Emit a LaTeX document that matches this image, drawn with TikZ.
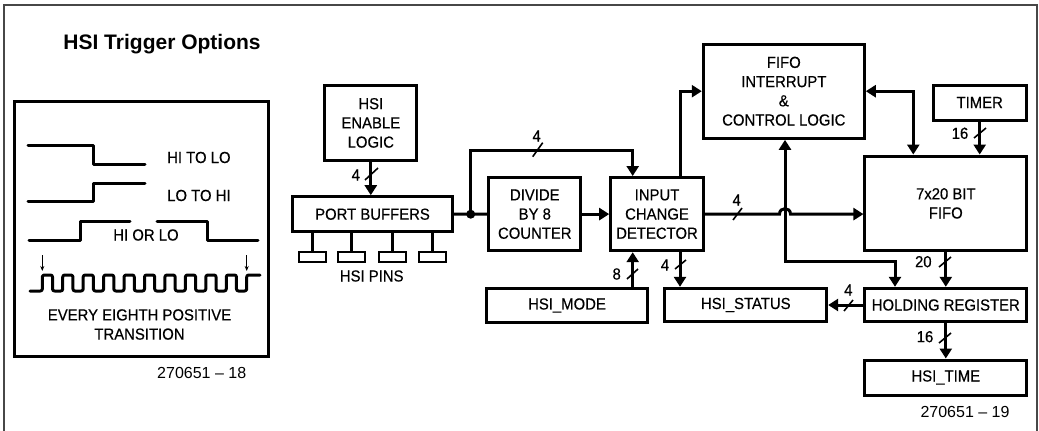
\documentclass[tikz,border=0pt]{standalone}
\usepackage{fontspec}
\setmainfont{Liberation Sans}
\newfontfamily\dgfont[FakeStretch=0.93,FakeBold=0.4]{Liberation Sans}
\usetikzlibrary{arrows.meta,calc}
\begin{document}
\begin{tikzpicture}[x=1pt,y=-1pt,
  box/.style={draw,line width=3pt,inner sep=0pt,align=center,font=\dgfont\fontsize{16}{19.2}\selectfont},
  lbl/.style={font=\dgfont\fontsize{16}{19.2}\selectfont,inner sep=0pt},
  wire/.style={line width=3pt},
  tip/.style={-{Triangle[length=10pt,width=12pt]}},
  dtip/.style={{Triangle[length=10pt,width=12pt]}-{Triangle[length=10pt,width=12pt]}},
  bus/.style={line width=1.6pt},
  wave/.style={line width=3pt,line cap=round,line join=round},
]
\useasboundingbox (0,0) rectangle (1039,431);
% outer frame
\draw[line width=2pt,black!72] (3.5,431) -- (3.5,4.5) -- (1036.5,4.5) -- (1036.5,431);

% ---------- left panel ----------
\node[font=\bfseries\fontsize{21}{24}\selectfont,inner sep=0pt,anchor=base] (title) at (162,49) {HSI Trigger Options};
\draw[line width=3pt] (14,101.7) rectangle (268,356);
\draw[wave] (28,145) -- (93,145) -- (93,164.3) -- (145,164.3);
\node[lbl,anchor=west] (hilo) at (167,157.5) {HI TO LO};
\draw[wave] (28,201.7) -- (93,201.7) -- (93,183.3) -- (145,183.3);
\node[lbl,anchor=west] (lohi) at (167,195.5) {LO TO HI};
\draw[wave] (29,240.7) -- (80,240.7) -- (80,221.7) -- (130,221.7);
\draw[wave] (157,221.7) -- (207,221.7) -- (207,240.7) -- (258,240.7);
\node[lbl] (hiorlo) at (146,235) {HI OR LO};
\draw[wave,rounded corners=2pt] (30,291)
  foreach \i in {0,...,9} { -- ({42.3+\i*20.44},291) -- ++(0,-16) -- ++(10.22,0) -- ++(0,16) }
  -- (246.7,291) -- (246.7,275) -- (260,275);
\draw[line width=0.9pt,-{Stealth[length=5pt,width=4pt]}] (42.3,255) -- (42.3,271);
\draw[line width=0.9pt,-{Stealth[length=5pt,width=4pt]}] (246.7,255) -- (246.7,271);
\node[lbl,align=center] (every) at (139.5,324.5) {EVERY EIGHTH POSITIVE\\TRANSITION};
\node[font=\fontsize{16}{19}\selectfont,inner sep=0pt] (fig18) at (201.7,372.7) {270651 – 18};

% ---------- block diagram ----------
\node[box,minimum width=91.7pt,minimum height=74.3pt] (enable) at (370.8,122.9) {HSI\\ENABLE\\LOGIC};
\node[box,minimum width=160.4pt,minimum height=35pt] (port) at (372.5,214.2) {PORT BUFFERS};
\node[box,minimum width=91.7pt,minimum height=73.2pt] (divide) at (534.8,214.1) {DIVIDE\\BY 8\\COUNTER};
\node[box,minimum width=92.6pt,minimum height=73.2pt] (icd) at (657,214.1) {INPUT\\CHANGE\\DETECTOR};
\node[box,minimum width=160.6pt,minimum height=34.4pt] (mode) at (567,305.5) {HSI\_MODE};
\node[box,minimum width=161.7pt,minimum height=33.4pt] (status) at (745.8,305) {HSI\_STATUS};
\node[box,minimum width=161pt,minimum height=94.3pt] (fifoint) at (783.8,91.2) {FIFO\\INTERRUPT\\\&\\CONTROL LOGIC};
\node[box,minimum width=92.7pt,minimum height=35pt] (timer) at (979.7,102.5) {TIMER};
\node[box,minimum width=161.7pt,minimum height=94.7pt] (fifo) at (945.8,203.4) {7x20 BIT\\FIFO};
\node[box,minimum width=161.7pt,minimum height=33.4pt] (hold) at (945.8,305) {HOLDING REGISTER};
\node[box,minimum width=161.7pt,minimum height=35pt] (time) at (945.8,377.5) {HSI\_TIME};
\node[font=\fontsize{16}{19}\selectfont,inner sep=0pt] (fig19) at (965,411.7) {270651 – 19};

% pins
\foreach \px [count=\k] in {312.3,351.7,392.3,432.3} {
  \coordinate (pin\k) at (\px,251.7);
  \draw[wire] (pin\k |- port.south) -- (pin\k);
  \node[draw,line width=2pt,minimum width=27pt,minimum height=10pt,inner sep=0pt,outer sep=0pt,anchor=north] (pb\k) at (pin\k) {};
}
\node[lbl] (pins) at (371.7,276) {HSI PINS};

% connectors
\draw[wire,tip] (enable.south) -- (enable.south |- port.north);
\coordinate (junc) at (470.7,214.2);
\draw[wire] (port.east) -- (junc) -- (divide.west);
\fill (junc) circle (4.5pt);
\coordinate (ax) at (632.7,150);
\draw[wire,tip] (junc) |- (ax) -- (ax |- icd.north);
\draw[wire,tip] (mode.north -| ax) -- (ax |- icd.south);
\coordinate (bx) at (680,91.2);
\draw[wire,tip] (icd.north -| bx) |- (fifoint.west);
\draw[wire,tip] (icd.south -| bx) -- (bx |- status.north);
\draw[wire,tip] (divide.east) -- (icd.west);
\coordinate (hx) at (785,214.1);
\draw[wire,tip] (icd.east) -- ($(hx)+(-5.5,0)$) .. controls ($(hx)+(-5.5,-7.3)$) and ($(hx)+(5.5,-7.3)$) .. ($(hx)+(5.5,0)$) -- (icd.east -| fifo.west);
\coordinate (cx) at (895,261);
\draw[wire,dtip] (hx |- fifoint.south) |- (cx) -- (cx |- hold.north);
\coordinate (dx) at (913.3,91.2);
\draw[wire,dtip] (fifoint.east) -| (dx |- fifo.north);
\draw[wire,tip] (timer.south) -- (timer.south |- fifo.north);
\draw[wire,tip] (fifo.south) -- (hold.north);
\draw[wire,tip] (hold.west) -- (status.east);
\draw[wire,tip] (hold.south) -- (time.north);

% bus widths
\draw[bus] (365,180) -- (378,168);      \node[lbl] (w1) at (355.8,175) {4};
\draw[bus] (532.7,156.7) -- (542.7,142.7); \node[lbl] (w2) at (536.7,136) {4};
\draw[bus] (627,279) -- (638,269);      \node[lbl] (w3) at (616.7,274) {8};
\draw[bus] (675,269) -- (686,260);      \node[lbl] (w4) at (665,265) {4};
\draw[bus] (733,220) -- (742,208);      \node[lbl] (w5) at (736.7,200) {4};
\draw[bus] (974,138) -- (986,128);      \node[lbl] (w6) at (960,133.3) {16};
\draw[bus] (939,267) -- (951,257);      \node[lbl] (w7) at (923.3,261.7) {20};
\draw[bus] (844,311) -- (853,300);      \node[lbl] (w8) at (848.3,290) {4};
\draw[bus] (939,343) -- (951,333);      \node[lbl] (w9) at (925,336.7) {16};
\end{tikzpicture}
\end{document}
